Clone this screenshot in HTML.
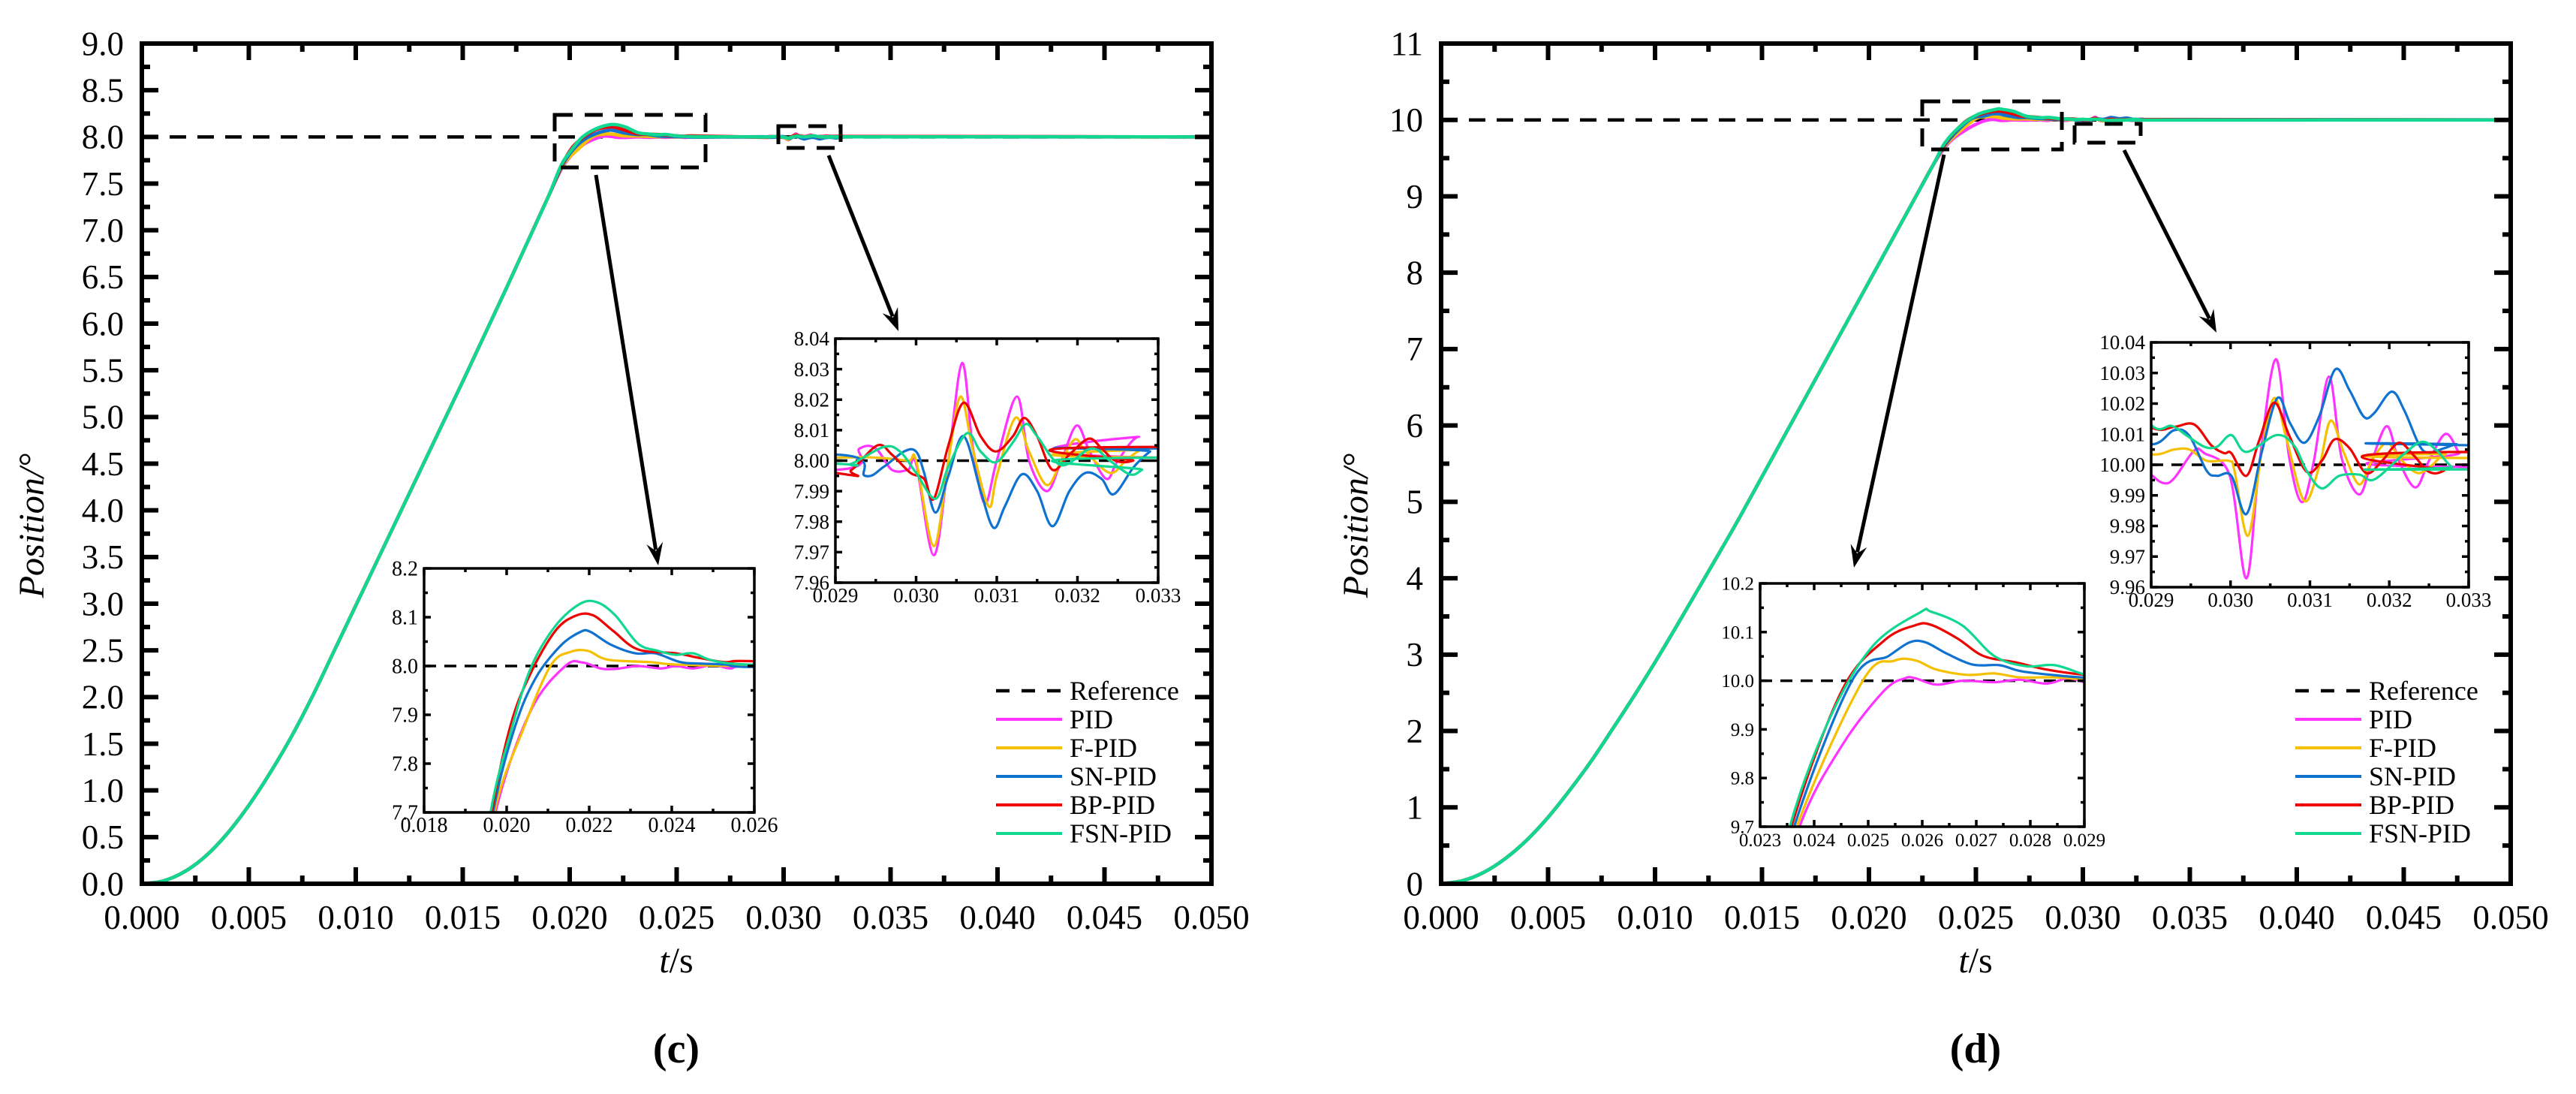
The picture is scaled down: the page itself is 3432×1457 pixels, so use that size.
<!DOCTYPE html>
<html><head><meta charset="utf-8"><style>
html,body{margin:0;padding:0;background:#fff;width:3432px;height:1457px;overflow:hidden;position:relative;}
svg{display:block;position:absolute;left:0;top:0;font-family:"Liberation Serif",serif;}
script{display:none;}
</style></head><body>
<svg id="fig" width="3432" height="1457" viewBox="0 0 3432 1457" xmlns="http://www.w3.org/2000/svg">
<rect x="0" y="0" width="3432" height="1457" fill="#fff"/>
<defs id="defs"></defs>
</svg>
<script>
// ===== data: panel (c) =====
const seriesNames = ['PID','F-PID','SN-PID','BP-PID','FSN-PID'];
const cTarget = 8;
const cRiseT = [0,0.001,0.002,0.003,0.004,0.005,0.006,0.007,0.008,0.009,0.010,0.011,0.012,0.013,0.014,0.015,0.016,0.017,0.018,0.019];
const cRiseV = [0,0.03,0.13,0.3,0.54,0.84,1.19,1.58,2.02,2.5,2.98,3.46,3.94,4.42,4.9,5.38,5.87,6.36,6.86,7.36];
const cPidT1 = [0.01973,0.02058,0.02142,0.02185,0.02227,0.02264,0.02318,0.02373,0.0241,0.02452,0.025,0.02542,0.02591];
const cPidV1 = [7.7,7.908,8.0,8.007,7.995,7.994,8.0,7.995,8.0,7.995,8.002,7.995,8.0];
const cFT1 = [0.0197,0.0204,0.02106,0.02155,0.02197,0.02245,0.02348,0.0241,0.02591];
const cFV1 = [7.7,7.87,8.0,8.029,8.031,8.013,8.008,8.003,8.0];
const cSnT1 = [0.01967,0.0202,0.0207,0.0213,0.02179,0.02203,0.02252,0.02312,0.0236,0.02421,0.0247,0.0253,0.02591];
const cSnV1 = [7.7,7.875,7.975,8.041,8.07,8.07,8.044,8.026,8.026,8.008,8.005,8.003,7.998];
const cBpT1 = [0.01964,0.0201,0.02058,0.02118,0.02167,0.02209,0.02258,0.02318,0.0241,0.0247,0.0253,0.02591];
const cBpV1 = [7.7,7.88,7.985,8.072,8.103,8.104,8.072,8.034,8.026,8.016,8.008,8.01];
const cFsnT1 = [0.01961,0.02009,0.02058,0.02118,0.02179,0.02221,0.02264,0.02318,0.02367,0.0241,0.02452,0.025,0.02591];
const cFsnV1 = [7.7,7.862,7.995,8.082,8.128,8.13,8.103,8.046,8.031,8.023,8.026,8.011,8.003];
const cPidT2 = [0.029,0.0293,0.0295,0.0297,0.0299,0.03,0.03022,0.0304,0.03057,0.0307,0.03085,0.031,0.03125,0.0314,0.03162,0.0318,0.03199,0.03215,0.03236,0.0325,0.03276,0.033];
const cPidV2 = [7.997,8.004,8.004,7.997,7.997,7.999,7.969,8.0,8.032,8.005,7.986,8.0,8.021,8.0,7.99,8.0,8.0115,8.003,7.994,8.0,8.0078,8.001];
const cFT2 = [0.029,0.0295,0.0299,0.03,0.03022,0.0304,0.03055,0.0307,0.0309,0.031,0.03123,0.0314,0.03162,0.0318,0.03197,0.0321,0.0324,0.0326,0.0328,0.033];
const cFV2 = [8.001,8.001,8.0,8.0,7.972,8.0,8.021,8.004,7.985,7.995,8.014,8.003,7.992,8.0,8.007,8.003,7.996,8.0,8.0035,8.001];
const cSnT2 = [0.029,0.02937,0.0296,0.02985,0.03,0.0301,0.03024,0.0304,0.03059,0.0308,0.03096,0.0311,0.03131,0.0315,0.03169,0.0319,0.0321,0.0323,0.03245,0.0327,0.0329,0.033];
const cSnV2 = [8.002,7.995,7.998,8.003,8.003,7.996,7.983,7.995,8.008,7.99,7.978,7.985,7.9955,7.99,7.9785,7.99,7.996,7.994,7.989,7.998,8.003,8.004];
const cBpT2 = [0.029,0.0292,0.02952,0.0297,0.02993,0.0301,0.03022,0.0304,0.03059,0.0308,0.03099,0.0312,0.03134,0.0315,0.03169,0.0319,0.03214,0.0323,0.03247,0.03269,0.033];
const cBpV2 = [7.996,7.997,8.005,8.002,7.996,7.994,7.9875,8.005,8.019,8.008,8.003,8.008,8.014,8.008,7.997,8.002,8.0072,8.004,8.0,8.0,8.0045];
const cFsnT2 = [0.029,0.0292,0.0296,0.0298,0.03,0.03024,0.0304,0.03063,0.0308,0.03099,0.0312,0.03136,0.0315,0.0318,0.03217,0.0324,0.03265,0.0328,0.033];
const cFsnV2 = [7.999,7.999,8.0045,8.003,7.996,7.9875,7.998,8.009,8.003,7.9995,8.006,8.012,8.008,7.9985,8.004,8.0,7.9955,7.997,8.001];
// ===== data: panel (d) =====
const dTarget = 10;
const dRiseT = [0,0.001,0.002,0.003,0.004,0.005,0.006,0.007,0.008,0.009,0.010,0.011,0.012,0.013,0.014,0.016,0.018,0.020,0.022,0.023];
const dRiseV = [0,0.04,0.15,0.33,0.57,0.87,1.22,1.6,2.02,2.45,2.9,3.37,3.85,4.33,4.82,5.84,6.86,7.88,8.9,9.41];
const dPidT1 = [0.02373,0.02451,0.02529,0.02568,0.02587,0.02626,0.02675,0.02733,0.02781,0.0283,0.02869];
const dPidV1 = [9.7,9.866,9.979,10.005,10.005,9.992,10.0,9.997,10.002,9.994,10.005];
const dFT1 = [0.02368,0.0249,0.02548,0.02587,0.02626,0.02684,0.02733,0.02781,0.0284];
const dFV1 = [9.7,10.0,10.041,10.042,10.023,10.012,10.015,10.007,10.007];
const dSnT1 = [0.02363,0.0247,0.02538,0.02577,0.02606,0.02645,0.02694,0.02743,0.02781,0.0284];
const dSnV1 = [9.7,10.0,10.051,10.079,10.079,10.056,10.033,10.032,10.02,10.012];
const dBpT1 = [0.02358,0.02451,0.02529,0.02587,0.02616,0.02665,0.02713,0.02772,0.0283];
const dBpV1 = [9.7,9.979,10.082,10.114,10.115,10.087,10.051,10.038,10.023];
const dFsnT1 = [0.02355,0.02431,0.02509,0.02597,0.02616,0.02675,0.02733,0.02791,0.02845];
const dFsnV1 = [9.7,9.928,10.072,10.141,10.142,10.113,10.051,10.03,10.032];
const dPidT2 = [0.029,0.02916,0.02929,0.02954,0.02967,0.02999,0.0302,0.03036,0.03057,0.03074,0.0309,0.03105,0.03124,0.0314,0.03162,0.03178,0.03197,0.03212,0.03233,0.0325,0.03271,0.03288,0.033];
const dPidV2 = [9.9968,9.994,9.9956,10.0046,10.0038,9.9964,9.9629,9.9997,10.0345,10.0022,9.9878,10.0013,10.0288,10.0022,9.9903,10.0013,10.0126,10.0013,9.9926,10.0013,10.0101,10.0038,9.9993];
const dFT2 = [0.029,0.02929,0.02948,0.0297,0.02998,0.03005,0.03022,0.03039,0.03055,0.03071,0.03093,0.03112,0.03126,0.03143,0.03162,0.03178,0.03197,0.03216,0.03236,0.03253,0.03271,0.033];
const dFV2 = [10.0034,10.005,10.005,10.0013,10.0013,9.998,9.9768,10.0038,10.0218,10.0079,9.9882,9.9997,10.0144,10.0038,9.9936,10.0013,10.0071,10.0013,9.9973,9.9997,10.0034,10.0022];
const dSnT2 = [0.029,0.02929,0.02948,0.0297,0.02983,0.03001,0.0302,0.03039,0.03059,0.03075,0.03093,0.03112,0.03132,0.0315,0.03168,0.03181,0.03203,0.03219,0.03238,0.0325,0.03269,0.03285,0.033];
const dSnV2 = [10.0067,10.0113,10.0095,9.998,9.9964,9.9964,9.9839,10.0038,10.0218,10.0136,10.0072,10.016,10.0312,10.0243,10.0157,10.0169,10.0239,10.0177,10.0063,10.004,10.0054,10.0067,10.0064];
const dBpT2 = [0.029,0.02929,0.02954,0.02976,0.02992,0.03001,0.0302,0.03036,0.03055,0.03074,0.03096,0.03115,0.03131,0.0315,0.03171,0.03191,0.03212,0.03231,0.0325,0.03269,0.033];
const dBpV2 = [10.0122,10.0124,10.0132,10.0063,10.0038,10.0038,9.9964,10.0079,10.0203,10.0095,9.9977,10.0013,10.0083,10.0054,9.9973,10.0013,10.0072,10.003,9.9977,9.9981,10.0042];
const dFsnT2 = [0.029,0.02926,0.02945,0.02967,0.02983,0.03001,0.0302,0.03058,0.0308,0.03096,0.03115,0.03137,0.03162,0.03181,0.03216,0.03241,0.0326,0.03279,0.033];
const dFsnV2 = [10.013,10.0127,10.0095,10.0059,10.0059,10.0097,10.0042,10.0097,10.0063,9.998,9.9923,9.9964,9.9968,9.9952,10.003,10.0075,10.0046,9.9993,9.9985];
// axis tick values
const cYTicks = [0,0.5,1,1.5,2,2.5,3,3.5,4,4.5,5,5.5,6,6.5,7,7.5,8,8.5,9];
const dYTicks = [0,1,2,3,4,5,6,7,8,9,10,11];
const mainXTicks = [0,0.005,0.01,0.015,0.02,0.025,0.03,0.035,0.04,0.045,0.05];
const cIn1XTicks = [0.018,0.02,0.022,0.024,0.026];
const dIn1XTicks = [0.023,0.024,0.025,0.026,0.027,0.028,0.029];
const in2XTicks = [0.029,0.03,0.031,0.032,0.033];
const cIn1YTicks = [7.7,7.8,7.9,8.0,8.1,8.2];
const dIn1YTicks = [9.7,9.8,9.9,10.0,10.1,10.2];
const cIn2YTicks = [7.96,7.97,7.98,7.99,8.0,8.01,8.02,8.03,8.04];
const dIn2YTicks = [9.96,9.97,9.98,9.99,10.0,10.01,10.02,10.03,10.04];

// ===== rendering =====
const NS='http://www.w3.org/2000/svg';
const svg=document.getElementById('fig');
const defs=document.getElementById('defs');
const colors=['#ff33ff','#f5c000','#0f72cf','#ee0000','#10d890'];
function mk(tag,attrs,parent){const e=document.createElementNS(NS,tag);for(const k in attrs)e.setAttribute(k,attrs[k]);(parent||svg).appendChild(e);return e;}
function txt(s,attrs,parent){const e=mk('text',attrs,parent);e.textContent=s;return e;}
function build(rT,rV,t1,v1,t2,v2,target){return {t:rT.concat(t1,t2,[0.05]),v:rV.concat(v1,v2,[target])};}
function spline(pts){let d='M'+pts[0][0].toFixed(2)+','+pts[0][1].toFixed(2);
 for(let i=0;i<pts.length-1;i++){const p0=pts[Math.max(0,i-1)],p1=pts[i],p2=pts[i+1],p3=pts[Math.min(pts.length-1,i+2)];
  const c1x=p1[0]+(p2[0]-p0[0])/6,c1y=p1[1]+(p2[1]-p0[1])/6,c2x=p2[0]-(p3[0]-p1[0])/6,c2y=p2[1]-(p3[1]-p1[1])/6;
  d+=' C'+c1x.toFixed(2)+','+c1y.toFixed(2)+' '+c2x.toFixed(2)+','+c2y.toFixed(2)+' '+p2[0].toFixed(2)+','+p2[1].toFixed(2);}
 return d;}
let clipId=0;
function fmt(v,dec){return v.toFixed(dec);}

function drawPlot(P){
 const g=mk('g',{});
 
 
 const sx=t=>P.x0+(t-P.tmin)/(P.tmax-P.tmin)*(P.x1-P.x0);
 const sy=v=>P.y1-(v-P.vmin)/(P.vmax-P.vmin)*(P.y1-P.y0);
 if(P.inset){const bg=mk('rect',{x:P.x0,y:P.y0,width:P.x1-P.x0,height:P.y1-P.y0,fill:'#fff'},g);
  
  }
 const id='clip'+(clipId++);
 const cp=mk('clipPath',{id:id},defs);
 mk('rect',{x:P.x0,y:P.y0-3,width:P.x1-P.x0,height:P.y1-P.y0+3},cp);
 const data=mk('g',{'clip-path':'url(#'+id+')'},g);
 const ref=mk('line',{x1:P.x0,x2:P.x1,y1:sy(P.target),y2:sy(P.target),stroke:'#000','stroke-width':P.inset?3.5:4.5,'stroke-dasharray':P.inset?'16,11':'22,15'},data);
 
 
 P.series.forEach((s,i)=>{
  const pts=s.t.map((t,k)=>[sx(t),sy(s.v[k])]);
  const p=mk('path',{d:spline(pts),fill:'none',stroke:colors[i],'stroke-width':P.inset?3.2:4.5,'stroke-linejoin':'round'},data);
  
  
 });
 const aw=P.inset?3.5:6, maj=P.inset?9:22, mn=P.inset?5:11;
 const fr=mk('rect',{x:P.x0,y:P.y0,width:P.x1-P.x0,height:P.y1-P.y0,fill:'none',stroke:'#000','stroke-width':aw},g);
 
 
 const tk=mk('g',{stroke:'#000','stroke-width':aw},g);
 
 
 const xs=P.xTicks; const xstep=xs[1]-xs[0];
 xs.forEach((t,k)=>{const x=sx(t);
  mk('line',{x1:x,x2:x,y1:P.y1,y2:P.y1-maj},tk);mk('line',{x1:x,x2:x,y1:P.y0,y2:P.y0+maj},tk);
  if(k<xs.length-1){const xm=sx(t+xstep/2);mk('line',{x1:xm,x2:xm,y1:P.y1,y2:P.y1-mn},tk);mk('line',{x1:xm,x2:xm,y1:P.y0,y2:P.y0+mn},tk);}
  const lb=txt(P.xFmt(t),{x:x,y:P.y1+P.xLabDy,'text-anchor':'middle','font-size':P.fs},g);
  
  
 });
 const ys=P.yTicks; const ystep=ys[1]-ys[0];
 ys.forEach((v,k)=>{const y=sy(v);
  mk('line',{x1:P.x0,x2:P.x0+maj,y1:y,y2:y},tk);mk('line',{x1:P.x1,x2:P.x1-maj,y1:y,y2:y},tk);
  if(k<ys.length-1){const ym=sy(v+ystep/2);mk('line',{x1:P.x0,x2:P.x0+mn,y1:ym,y2:ym},tk);mk('line',{x1:P.x1,x2:P.x1-mn,y1:ym,y2:ym},tk);}
  const lb=txt(P.yFmt(v),{x:P.x0-P.yLabDx,y:y+P.fs*0.34,'text-anchor':'end','font-size':P.fs},g);
  
  
 });
 return g;
}
function arrow(x1,y1,x2,y2,name){
 const g=mk('g',{});
 
 
 const dx=x2-x1,dy=y2-y1,L=Math.hypot(dx,dy),ux=dx/L,uy=dy/L,h=30,w=11;
 mk('line',{x1:x1,y1:y1,x2:x2-ux*h*0.7,y2:y2-uy*h*0.7,stroke:'#000','stroke-width':5},g);
 const bx=x2-ux*h,by=y2-uy*h;
 mk('polygon',{points:x2+','+y2+' '+(bx-uy*w)+','+(by+ux*w)+' '+(x2-ux*h*0.65)+','+(y2-uy*h*0.65)+' '+(bx+uy*w)+','+(by-ux*w),fill:'#000'},g);
}
function zoomBox(x,y,w,h,name){
 const r=mk('rect',{x:x,y:y,width:w,height:h,fill:'none',stroke:'#000','stroke-width':5,'stroke-dasharray':'24,16'});
 
 
}
function legend(lx,ly,name){
 const g=mk('g',{});
 
 
 const names=['Reference'].concat(seriesNames);
 names.forEach((n,i)=>{const y=ly+i*38;
  const e=mk('g',{},g);
  
  
  if(i===0)mk('line',{x1:lx,x2:lx+88,y1:y,y2:y,stroke:'#000','stroke-width':4.5,'stroke-dasharray':'18,16'},e);
  else mk('line',{x1:lx,x2:lx+88,y1:y,y2:y,stroke:colors[i-1],'stroke-width':4},e);
  txt(n,{x:lx+98,y:y+12,'font-size':36},e);
 });
}

const cSeries=[build(cRiseT,cRiseV,cPidT1,cPidV1,cPidT2,cPidV2,cTarget),build(cRiseT,cRiseV,cFT1,cFV1,cFT2,cFV2,cTarget),build(cRiseT,cRiseV,cSnT1,cSnV1,cSnT2,cSnV2,cTarget),build(cRiseT,cRiseV,cBpT1,cBpV1,cBpT2,cBpV2,cTarget),build(cRiseT,cRiseV,cFsnT1,cFsnV1,cFsnT2,cFsnV2,cTarget)];
const dSeries=[build(dRiseT,dRiseV,dPidT1,dPidV1,dPidT2,dPidV2,dTarget),build(dRiseT,dRiseV,dFT1,dFV1,dFT2,dFV2,dTarget),build(dRiseT,dRiseV,dSnT1,dSnV1,dSnT2,dSnV2,dTarget),build(dRiseT,dRiseV,dBpT1,dBpV1,dBpT2,dBpV2,dTarget),build(dRiseT,dRiseV,dFsnT1,dFsnV1,dFsnT2,dFsnV2,dTarget)];

drawPlot({name:'main-plot-c',x0:189,x1:1614,y0:58,y1:1177,tmin:0,tmax:0.05,vmin:0,vmax:9,target:cTarget,series:cSeries,xTicks:mainXTicks,yTicks:cYTicks,xFmt:t=>fmt(t,3),yFmt:v=>fmt(v,1),fs:45,xLabDy:60,yLabDx:24});
drawPlot({name:'main-plot-d',x0:1920,x1:3345,y0:58,y1:1177,tmin:0,tmax:0.05,vmin:0,vmax:11,target:dTarget,series:dSeries,xTicks:mainXTicks,yTicks:dYTicks,xFmt:t=>fmt(t,3),yFmt:v=>fmt(v,0),fs:45,xLabDy:60,yLabDx:24});
zoomBox(739,153,201,70,'zoom-box-c-peak');
zoomBox(1037,168,83,29,'zoom-box-c-steady');
zoomBox(2561,135,186,64,'zoom-box-d-peak');
zoomBox(2764,165,88,25,'zoom-box-d-steady');
arrow(794,233,877,753,'arrow-c-peak');
arrow(1104,207,1197,441,'arrow-c-steady');
arrow(2590,206,2470,756,'arrow-d-peak');
arrow(2830,200,2953,443,'arrow-d-steady');
drawPlot({name:'inset-c-peak',inset:true,x0:565,x1:1005,y0:757,y1:1082,tmin:0.018,tmax:0.026,vmin:7.7,vmax:8.2,target:cTarget,series:cSeries,xTicks:cIn1XTicks,yTicks:cIn1YTicks,xFmt:t=>fmt(t,3),yFmt:v=>fmt(v,1),fs:28,xLabDy:26,yLabDx:8});
drawPlot({name:'inset-c-steady',inset:true,x0:1113,x1:1543,y0:451,y1:776,tmin:0.029,tmax:0.033,vmin:7.96,vmax:8.04,target:cTarget,series:cSeries,xTicks:in2XTicks,yTicks:cIn2YTicks,xFmt:t=>fmt(t,3),yFmt:v=>fmt(v,2),fs:27,xLabDy:26,yLabDx:8});
drawPlot({name:'inset-d-peak',inset:true,x0:2345,x1:2777,y0:777,y1:1101,tmin:0.023,tmax:0.029,vmin:9.7,vmax:10.2,target:dTarget,series:dSeries,xTicks:dIn1XTicks,yTicks:dIn1YTicks,xFmt:t=>fmt(t,3),yFmt:v=>fmt(v,1),fs:25,xLabDy:26,yLabDx:8});
drawPlot({name:'inset-d-steady',inset:true,x0:2866,x1:3289,y0:456,y1:782,tmin:0.029,tmax:0.033,vmin:9.96,vmax:10.04,target:dTarget,series:dSeries,xTicks:in2XTicks,yTicks:dIn2YTicks,xFmt:t=>fmt(t,3),yFmt:v=>fmt(v,2),fs:27,xLabDy:26,yLabDx:8});
legend(1327,920,'legend-c');
legend(3058,920,'legend-d');
[[58,'y-axis-title-c'],[1822,'y-axis-title-d']].forEach(a=>{
 const t=mk('text',{x:0,y:0,transform:'translate('+a[0]+',700) rotate(-90)','text-anchor':'middle','font-size':48,'font-style':'italic'});
 t.textContent='Position/°';
 
 
});
[[901,'x-axis-title-c'],[2632,'x-axis-title-d']].forEach(a=>{
 const t=mk('text',{x:a[0],y:1295,'text-anchor':'middle','font-size':48});
 const i1=mk('tspan',{'font-style':'italic'},t); i1.textContent='t';
 const i2=mk('tspan',{},t); i2.textContent='/s';
 
 
});
[[901,'(c)','panel-label-c'],[2632,'(d)','panel-label-d']].forEach(a=>{
 const t=txt(a[1],{x:a[0],y:1415,'text-anchor':'middle','font-size':56,'font-weight':'bold'});
 
 
});
</script>
</body></html>
